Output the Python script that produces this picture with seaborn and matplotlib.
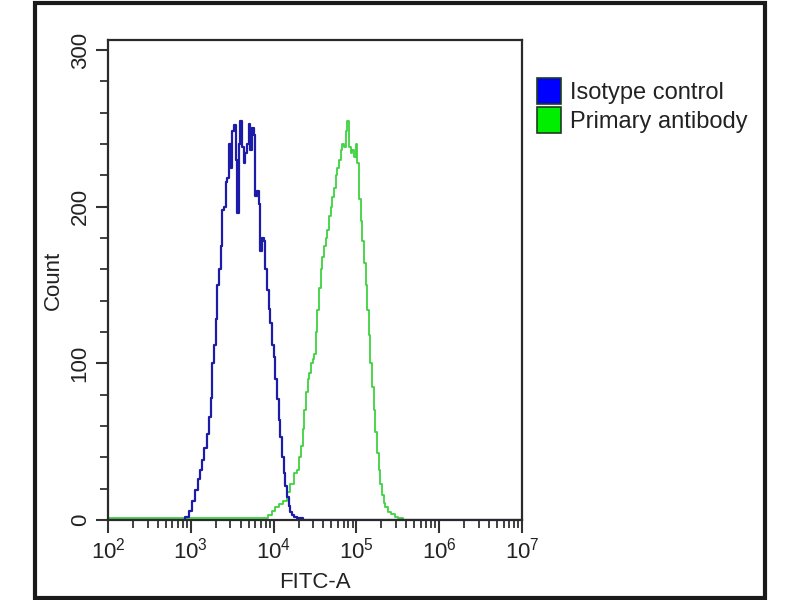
import numpy as np
import pandas as pd
import matplotlib
matplotlib.use("Agg")
import matplotlib.pyplot as plt
import seaborn as sns
from matplotlib.patches import Patch, Rectangle
from matplotlib.ticker import LogLocator, FixedLocator

# ---- data (log10 of FITC-A bin centre, counts) ----
blue_log = [2.00, 2.90, 2.95, 3.00, 3.04, 3.07, 3.10, 3.13, 3.15, 3.18, 3.21, 3.23, 3.25,
            3.27, 3.29, 3.31, 3.33, 3.35, 3.37, 3.39, 3.41, 3.43, 3.45, 3.47, 3.49, 3.51,
            3.53, 3.55, 3.57, 3.59, 3.61, 3.63, 3.65, 3.67, 3.69, 3.71, 3.73, 3.75, 3.77,
            3.79, 3.81, 3.83, 3.85, 3.87, 3.89, 3.91, 3.93, 3.95, 3.97, 3.99, 4.01, 4.03,
            4.05, 4.07, 4.09, 4.11, 4.13, 4.15, 4.17, 4.19, 4.21, 4.23, 4.26, 4.30, 4.40, 6.99]
blue_count = [0, 0, 2, 6, 12, 19, 26, 32, 38, 46, 55, 66, 78,
              100, 112, 128, 150, 160, 175, 198, 200, 216, 218, 240, 225, 248,
              252, 230, 196, 240, 255, 238, 228, 234, 240, 253, 236, 250, 246,
              207, 210, 202, 172, 180, 178, 160, 147, 135, 126, 112, 104, 90,
              77, 64, 53, 40, 30, 22, 15, 9, 5, 3, 2, 1, 0, 0]

green_log = [2.00, 3.90, 3.96, 3.99, 4.04, 4.09, 4.14, 4.18, 4.22, 4.26, 4.30, 4.32, 4.34,
             4.36, 4.38, 4.40, 4.42, 4.44, 4.46, 4.48, 4.50, 4.52, 4.54, 4.56, 4.58, 4.60,
             4.62, 4.64, 4.66, 4.68, 4.70, 4.72, 4.74, 4.76, 4.78, 4.80, 4.82, 4.84, 4.86,
             4.88, 4.90, 4.92, 4.94, 4.96, 4.98, 5.00, 5.02, 5.04, 5.06, 5.08, 5.10, 5.12,
             5.14, 5.16, 5.18, 5.20, 5.22, 5.24, 5.26, 5.28, 5.30, 5.32, 5.34, 5.36, 5.40,
             5.44, 5.48, 5.52, 5.60, 6.99]
green_count = [1, 1, 3, 6, 8, 10, 12, 18, 23, 30, 32, 40, 47,
               58, 70, 82, 90, 94, 100, 103, 106, 120, 134, 148, 160, 168,
               175, 180, 185, 194, 200, 206, 212, 220, 225, 230, 236, 240, 238,
               248, 255, 238, 234, 236, 232, 240, 228, 205, 191, 178, 164, 150,
               134, 118, 100, 85, 70, 56, 43, 32, 23, 16, 11, 8, 5,
               4, 2, 1, 0, 0]

series_names = ["Isotype control", "Primary antibody"]
series_colors = ["#1c1ca8", "#3fd23f"]
legend_colors = ["#0000ff", "#00ee00"]
x_label = "FITC-A"
y_label = "Count"
y_ticks = [0, 100, 200, 300]

sns.set_style("ticks")
plt.rcParams['font.family'] = ['Liberation Sans', 'DejaVu Sans']
plt.rcParams['mathtext.fontset'] = 'custom'
plt.rcParams['mathtext.rm'] = 'Liberation Sans'
plt.rcParams['mathtext.it'] = 'Liberation Sans'

fig = plt.figure(figsize=(8, 6), dpi=100)
ax = fig.add_axes([108/800, 1-520/600, (522-108)/800, (520-40)/600])

df_b = pd.DataFrame({"x": np.power(10.0, blue_log), "y": blue_count})
df_g = pd.DataFrame({"x": np.power(10.0, green_log), "y": green_count})
sns.lineplot(data=df_g, x="x", y="y", ax=ax, color=series_colors[1], lw=1.3,
             drawstyle="steps-mid", estimator=None, sort=False)
sns.lineplot(data=df_b, x="x", y="y", ax=ax, color=series_colors[0], lw=1.6,
             drawstyle="steps-mid", estimator=None, sort=False)

ax.set_xscale("log")
ax.set_xlim(1e2, 1e7)
ax.set_ylim(0, 306.4)
ax.xaxis.set_major_locator(LogLocator(base=10, numticks=10))
ax.xaxis.set_minor_locator(LogLocator(base=10, subs=np.arange(2, 10), numticks=20))
ax.set_yticks(y_ticks)
ax.yaxis.set_minor_locator(FixedLocator(np.arange(0, 301, 20)))

for s in ax.spines.values():
    s.set_color("#2a2a2a")
    s.set_linewidth(1.6)
ax.tick_params(axis="both", which="major", length=9, width=1.5, color="#333333",
               labelsize=16, labelcolor="#222222", direction="out")
ax.tick_params(axis="both", which="minor", length=5.5, width=1.3, color="#333333",
               direction="out")
ax.tick_params(axis="x", pad=4)
for lab in ax.get_yticklabels():
    lab.set_rotation(90)
    lab.set_va("center")

ax.set_xlabel(x_label, fontsize=16, color="#222222", labelpad=6)
ax.set_ylabel(y_label, fontsize=16, color="#222222", labelpad=4)

handles = [Patch(facecolor=c, edgecolor="#1d3d1d", linewidth=1.2) for c in legend_colors]
fig.legend(handles, series_names, loc="upper left", bbox_to_anchor=(537/800, 1-78/600),
           frameon=False, fontsize=17, handlelength=1.0, handleheight=1.3,
           handletextpad=0.4, labelspacing=0.15, borderaxespad=0, borderpad=0,
           labelcolor="#222222")

fig.patches.append(Rectangle((35/800, 2/600), (765-35)/800, (597-2)/600, transform=fig.transFigure,
                             fill=False, edgecolor="#1a1a1a", linewidth=3))

fig.savefig("out.png", dpi=100)
